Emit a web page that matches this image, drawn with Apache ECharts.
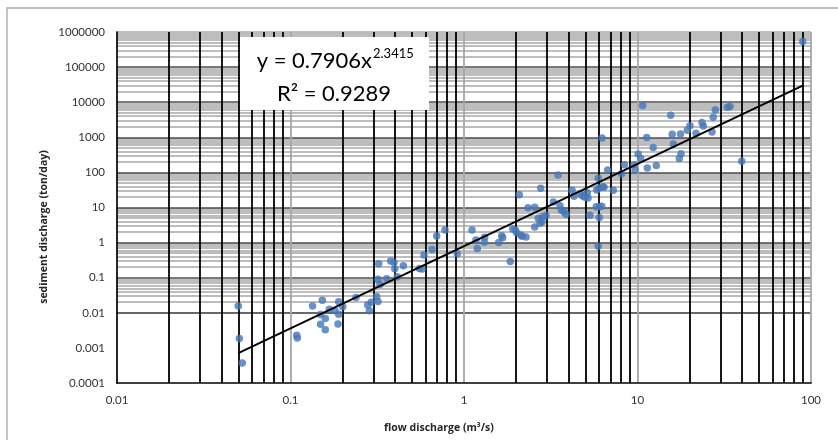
<!DOCTYPE html>
<html><head><meta charset="utf-8">
<script src="https://cdn.jsdelivr.net/npm/echarts@6/dist/echarts.min.js"></script>
<style>html,body{margin:0;padding:0;background:#fff}#c{width:838px;height:440px}</style>
</head><body><div id="c"></div>
<script>
// flow discharge (m3/s)
const flowDischarge = [
  0.050, 0.0507, 0.0527, 0.1086, 0.1094, 0.134, 0.1525, 0.149, 0.1587, 0.149,
  0.1587, 0.1674, 0.1805, 0.1896, 0.200, 0.1896, 0.1878, 0.2385, 0.2786, 0.2922,
  0.2846, 0.314, 0.3193, 0.3224, 0.3193, 0.328, 0.3584, 0.378, 0.395, 0.399,
  0.4125, 0.447, 0.553, 0.573, 0.588, 0.654, 0.696, 0.777, 0.915, 1.112,
  1.173, 1.193, 1.316, 1.309, 1.585, 1.649, 1.671, 1.849, 1.909, 1.975,
  2.012, 2.083, 2.122, 2.159, 2.277, 2.338, 2.556, 2.556, 2.681, 2.742,
  2.816, 2.842, 2.969, 2.767, 3.271, 3.482, 3.575, 3.638, 3.771, 3.872,
  4.194, 4.305, 4.706, 4.833, 4.983, 5.185, 5.137, 5.324, 5.787, 6.024,
  6.22, 6.024, 5.936, 5.943, 5.819, 5.999, 6.303, 6.412, 6.734, 6.244,
  7.252, 8.089, 8.415, 9.57, 9.67, 10.09, 10.43, 10.71, 11.30, 11.39,
  12.31, 12.83, 15.54, 15.85, 16.08, 17.42, 17.81, 17.69, 19.36, 20.07,
  21.74, 23.54, 23.95, 26.88, 27.31, 28.08, 32.93, 34.13, 39.87, 89.6
];
// sediment discharge (ton/day)
const sedimentDischarge = [
  0.0155, 0.00185, 0.00037, 0.0023, 0.0019, 0.0155, 0.0229, 0.0090, 0.0069, 0.0047,
  0.0033, 0.0127, 0.0114, 0.0205, 0.0148, 0.0091, 0.0048, 0.0274, 0.0168, 0.0201,
  0.0114, 0.0292, 0.0210, 0.249, 0.091, 0.064, 0.093, 0.297, 0.273, 0.179,
  0.106, 0.218, 0.184, 0.176, 0.441, 0.641, 1.54, 2.28, 0.48, 2.28,
  1.18, 0.676, 1.41, 1.02, 1.0, 1.57, 1.38, 0.288, 2.43, 2.28,
  1.91, 23.2, 1.64, 1.51, 1.44, 9.87, 10.1, 2.78, 4.92, 3.54,
  3.86, 5.46, 5.91, 35.5, 14.35, 84.6, 11.26, 8.32, 7.59, 6.40,
  31.0, 20.9, 24.3, 21.3, 19.5, 18.7, 26.5, 5.99, 10.5, 10.5,
  10.8, 5.18, 0.786, 68.6, 31.6, 36.0, 39.2, 37.7, 117.5, 950,
  31.2, 92.2, 165, 165, 117.5, 332, 247, 7990, 982, 134,
  509, 158, 4280, 1228, 649, 247, 341, 1236, 1597, 2118,
  1294, 2631, 2091, 1409, 3752, 5983, 7144, 7527, 208, 539000
];
// power trendline end points (y = 0.7906x^2.3415)
const trendX = [0.05, 89.6];
const trendY = [0.00071, 29500];

const xTickValues = [0.01, 0.1, 1, 10, 100];
const xTickLabels = ['0.01', '0.1', '1', '10', '100'];
const yTickValues = [0.0001, 0.001, 0.01, 0.1, 1, 10, 100, 1000, 10000, 100000, 1000000];
const yTickLabels = ['0.0001', '0.001', '0.01', '0.1', '1', '10', '100', '1000', '10000', '100000', '1000000'];
const minorSteps = [2, 3, 4, 5, 6, 7, 8, 9];

const FONT = 'Lato';
const TXT = '#333333';

function labelFor(values, labels) {
  return function (v) {
    const lv = Math.log10(v);
    let best = 0, bd = Infinity;
    values.forEach((t, i) => { const d = Math.abs(Math.log10(t) - lv); if (d < bd) { bd = d; best = i; } });
    return labels[best];
  };
}

// grid lines
const hLines = [];
for (let i = 0; i < yTickValues.length - 1; i++) {
  minorSteps.forEach(m => hLines.push({ yAxis: yTickValues[i] * m, lineStyle: { color: '#bdbdbd', width: 2, type: 'solid' } }));
}
yTickValues.slice(1).forEach((v, i, arr) => {
  const top = i === arr.length - 1;
  hLines.push({ yAxis: v, lineStyle: { color: top ? '#a6a6a6' : '#4d4d4d', width: 1.7, type: 'solid' } });
});
const vLines = [];
for (let i = 0; i < xTickValues.length - 1; i++) {
  minorSteps.forEach(m => vLines.push({ xAxis: xTickValues[i] * m, lineStyle: { color: '#000000', width: 1.8, type: 'solid' } }));
}
xTickValues.slice(1).forEach(v => vLines.push({ xAxis: v, lineStyle: { color: '#a6a6a6', width: 1.8, type: 'solid' } }));

function gridSeries(lines, z) {
  return {
    type: 'line', data: [], z: z, silent: true, animation: false,
    markLine: {
      z: z, silent: true, animation: false, symbol: ['none', 'none'],
      label: { show: false }, emphasis: { disabled: true },
      data: lines
    }
  };
}

const chart = echarts.init(document.getElementById('c'), null, { renderer: 'canvas' });
chart.setOption({
  animation: false,
  backgroundColor: '#ffffff',
  grid: { left: 117, top: 32, width: 694, height: 351, containLabel: false },
  xAxis: {
    type: 'log', logBase: 10, min: 0.01, max: 100, z: 6,
    axisLine: { show: true, lineStyle: { color: '#000', width: 1.7 } },
    axisTick: { show: false },
    splitLine: { show: false },
    axisLabel: {
      customValues: xTickValues, formatter: labelFor(xTickValues, xTickLabels),
      margin: 11, fontFamily: FONT, fontSize: 11.5, color: TXT
    }
  },
  yAxis: {
    type: 'log', logBase: 10, min: 0.0001, max: 1000000, z: 6,
    axisLine: { show: true, lineStyle: { color: '#000', width: 1.7 } },
    axisTick: { show: false },
    splitLine: { show: false },
    axisLabel: {
      customValues: yTickValues, formatter: labelFor(yTickValues, yTickLabels),
      margin: 12, fontFamily: FONT, fontSize: 11.5, color: TXT
    }
  },
  series: [
    gridSeries(hLines, 1),
    gridSeries(vLines, 2),
    {
      type: 'scatter', z: 4, symbol: 'circle', symbolSize: 7.5,
      itemStyle: { color: '#4677b8' },
      data: flowDischarge.map((x, i) => [x, sedimentDischarge[i]])
    },
    {
      type: 'line', z: 5, symbol: 'none', silent: true,
      lineStyle: { color: '#000', width: 1.9 },
      data: trendX.map((x, i) => [x, trendY[i]])
    }
  ],
  graphic: [
    { type: 'rect', z: 20, silent: true, shape: { x: 7, y: 8, width: 900, height: 500 }, style: { fill: 'none', stroke: '#a6a6a6', lineWidth: 1.3 } },
    { type: 'rect', z: 20, silent: true, shape: { x: 240, y: 37, width: 189, height: 73 }, style: { fill: '#ffffff' } },
    { type: 'text', z: 21, silent: true, x: 372, y: 61, style: { text: 'y = 0.7906x', fontFamily: FONT, fontSize: 22, fill: '#000', align: 'right', verticalAlign: 'middle' } },
    { type: 'text', z: 21, silent: true, x: 373, y: 53.5, style: { text: '2.3415', fontFamily: FONT, fontSize: 13, fill: '#000', align: 'left', verticalAlign: 'middle' } },
    { type: 'text', z: 21, silent: true, x: 334, y: 94, style: { text: 'R² = 0.9289', fontFamily: FONT, fontSize: 22, fill: '#000', align: 'center', verticalAlign: 'middle' } },
    { type: 'text', z: 21, silent: true, x: 439, y: 428, style: { text: 'flow discharge (m³/s)', fontFamily: 'Open Sans', fontSize: 10.5, fontWeight: 'bold', fill: '#262626', align: 'center', verticalAlign: 'middle' } },
    { type: 'text', z: 21, silent: true, x: 44, y: 227, rotation: Math.PI / 2, style: { text: 'sediment discharge (ton/day)', fontFamily: 'Open Sans', fontSize: 10.5, fontWeight: 'bold', fill: '#262626', align: 'center', verticalAlign: 'middle' } }
  ]
});
</script>
</body></html>
